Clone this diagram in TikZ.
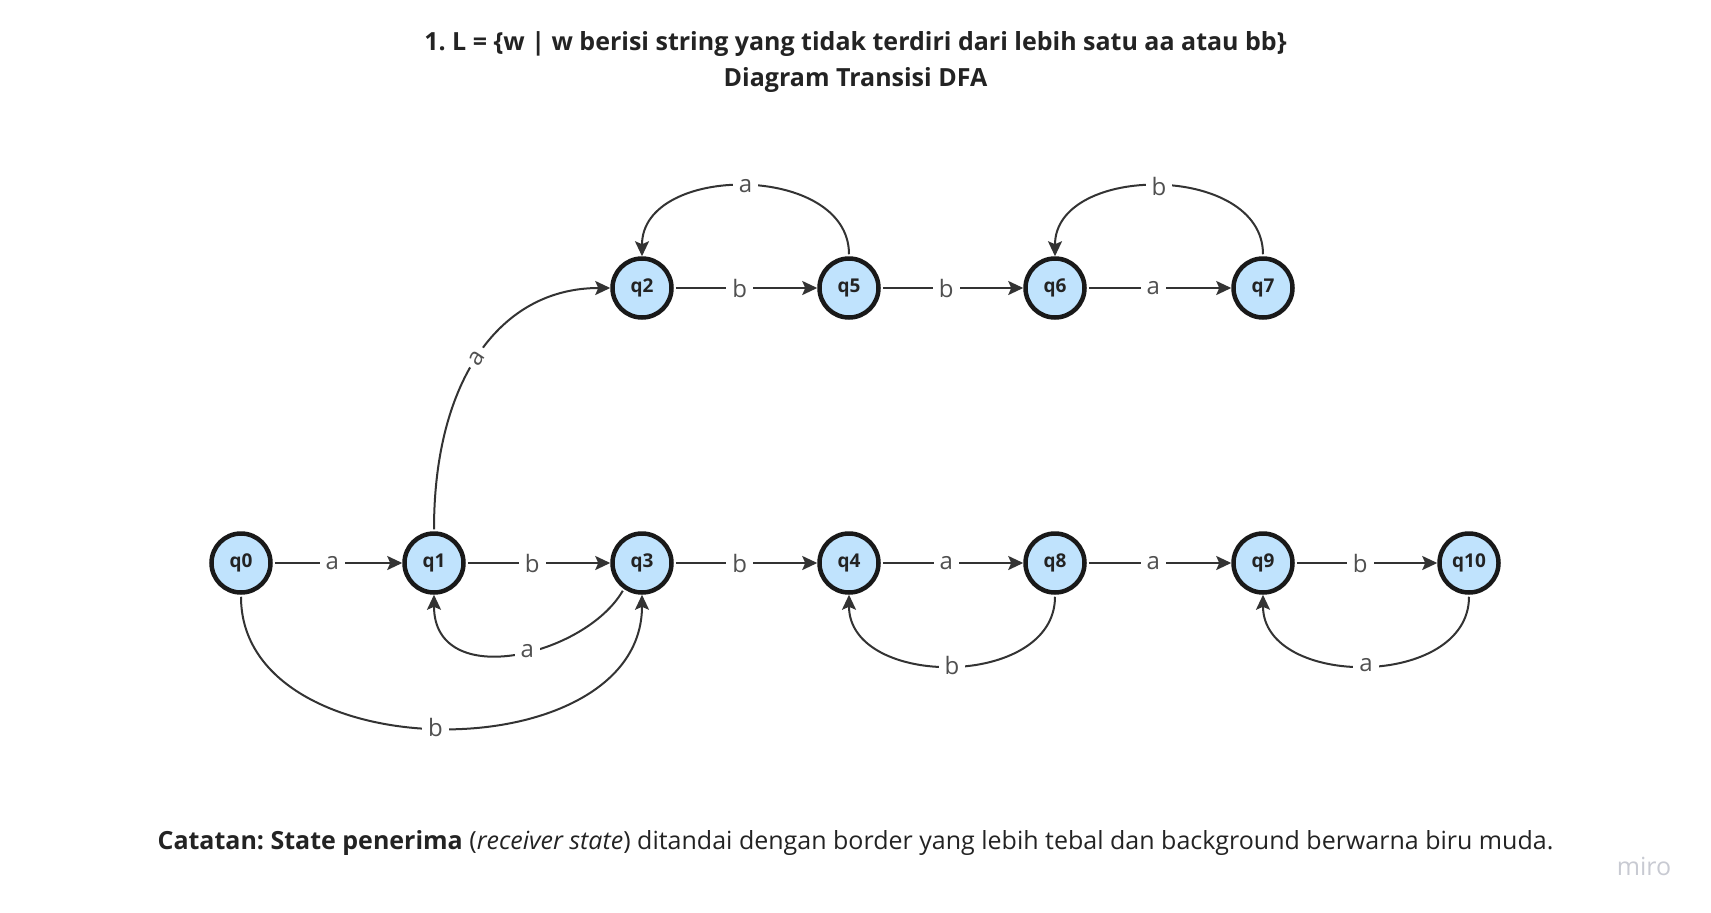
\documentclass[tikz,border=0pt]{standalone}
\usepackage{fontspec}
\setmainfont{Open Sans}
\usetikzlibrary{arrows.meta}
\frenchspacing
\definecolor{nodefill}{RGB}{192,227,253}
\definecolor{edgecol}{RGB}{51,51,51}
\definecolor{labcol}{RGB}{80,80,80}
\definecolor{txtcol}{RGB}{35,35,35}
\definecolor{mirocol}{RGB}{200,202,210}
\begin{document}
\begin{tikzpicture}[x=1pt,y=-1pt,
  state/.style={circle,draw=black!90,line width=4.5pt,fill=nodefill,minimum size=59pt,inner sep=0pt,font=\bfseries\fontsize{19}{21}\selectfont,text=txtcol},
  edge/.style={draw=edgecol,line width=2pt,-{Stealth[length=15pt,width=14pt,inset=3pt]},shorten <=2pt},
  lab/.style={fill=white,inner xsep=6pt,inner ysep=2pt,text=labcol,font=\fontsize{24}{26}\selectfont},
  slab/.style={lab,pos=0.46}]
\useasboundingbox (0,0) rectangle (1711,913);
\node[font=\bfseries\fontsize{25}{28}\selectfont,text=txtcol] (t1) at (855.5,44) {1. L = \{w | w berisi string yang tidak terdiri dari lebih satu aa atau bb\}};
\node[font=\bfseries\fontsize{25}{28}\selectfont,text=txtcol] (t2) at (855.5,80) {Diagram Transisi DFA};
\node[font=\fontsize{25}{29}\selectfont,text=txtcol] (note) at (855.5,843) {\textbf{Catatan: State penerima} (\textit{receiver state}) ditandai dengan border yang lebih tebal dan background berwarna biru muda.};
\node[font=\fontsize{25}{28}\selectfont,text=mirocol] (miro) at (1644,866) {miro};

\node[state] (q0) at (241,563) {q0};
\node[state] (q1) at (434,563) {q1};
\node[state] (q3) at (642,563) {q3};
\node[state] (q4) at (849,563) {q4};
\node[state] (q8) at (1055,563) {q8};
\node[state] (q9) at (1263,563) {q9};
\node[state] (q10) at (1469,563) {q10};
\node[state] (q2) at (642,288) {q2};
\node[state] (q5) at (849,288) {q5};
\node[state] (q6) at (1055,288) {q6};
\node[state] (q7) at (1263,288) {q7};

\draw[edge] (q0) -- node[slab] {a} (q1);
\draw[edge] (q1) -- node[slab] {b} (q3);
\draw[edge] (q3) -- node[slab] {b} (q4);
\draw[edge] (q4) -- node[slab] {a} (q8);
\draw[edge] (q8) -- node[slab] {a} (q9);
\draw[edge] (q9) -- node[slab] {b} (q10);
\draw[edge] (q2) -- node[slab] {b} (q5);
\draw[edge] (q5) -- node[slab] {b} (q6);
\draw[edge] (q6) -- node[slab] {a} (q7);

\draw[edge] (q1.north) .. controls (434,380) and (500,288) .. node[lab,sloped,pos=0.48,inner xsep=5pt] {a} (q2.west);
\draw[edge] (q5.north) .. controls (849,163) and (642,163) .. node[lab,pos=0.5] {a} (q2.north);
\draw[edge] (q7.north) .. controls (1263,163) and (1055,163) .. node[lab,pos=0.5] {b} (q6.north);
\draw[edge] (q3.-125) .. controls (585,656) and (434,692) .. node[lab,pos=0.45] {a} (q1.south);
\draw[edge] (q0.south) .. controls (241,772) and (642,772) .. node[lab,pos=0.49] {b} (q3.south);
\draw[edge] (q8.south) .. controls (1055,689) and (849,689) .. node[lab,pos=0.5] {b} (q4.south);
\draw[edge] (q10.south) .. controls (1469,689) and (1263,689) .. node[lab,pos=0.5] {a} (q9.south);
\end{tikzpicture}
\end{document}
